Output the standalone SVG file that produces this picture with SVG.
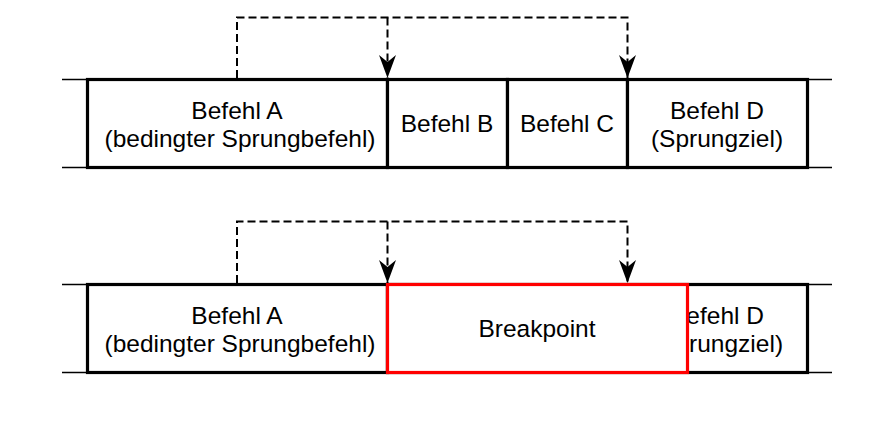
<svg xmlns="http://www.w3.org/2000/svg" width="896" height="426" viewBox="0 0 896 426">
<defs>
<style>
.box{fill:#fff;stroke:#000;stroke-width:3.2}
.thin{stroke:#000;stroke-width:1.3;fill:none}
.red{fill:#fff;stroke:#ff0000;stroke-width:3.2}
.dash{fill:none;stroke:#000;stroke-width:2;stroke-dasharray:8 4}
text{font-family:"Liberation Sans",Arial,sans-serif;font-size:24.5px;fill:#000;text-anchor:middle}
</style>
<marker id="arr" markerUnits="userSpaceOnUse" markerWidth="26" markerHeight="20" viewBox="-24 -10 26 20" refX="0" refY="0" orient="auto">
<path d="M0,0 L-23,-8.5 L-16,0 L-23,8.5 Z" fill="#000"/>
</marker>
</defs>
<rect width="896" height="426" fill="#fff"/>

<g id="row1">
<path class="thin" d="M62,79.5H87M62,167.5H87M807,79.5H832M807,167.5H832"/>
<g id="r1-a"><rect class="box" x="87.5" y="79.5" width="300" height="88"/>
<text x="237" y="119">Befehl A</text><text x="240" y="147">(bedingter Sprungbefehl)</text></g>
<g id="r1-b"><rect class="box" x="387.5" y="79.5" width="120" height="88"/><text x="447" y="132">Befehl B</text></g>
<g id="r1-c"><rect class="box" x="507.5" y="79.5" width="120" height="88"/><text x="567" y="132">Befehl C</text></g>
<g id="r1-d"><rect class="box" x="627.5" y="79.5" width="180" height="88"/>
<text x="717" y="119">Befehl D</text><text x="717" y="147">(Sprungziel)</text></g>
</g>

<g id="row2">
<path class="thin" d="M62,284.5H87M62,372.5H87M807,284.5H832M807,372.5H832"/>
<g id="r2-a"><rect class="box" x="87.5" y="284.5" width="300" height="88"/>
<text x="237" y="324">Befehl A</text><text x="240" y="352">(bedingter Sprungbefehl)</text></g>
<g id="r2-d"><rect class="box" x="387.5" y="284.5" width="420" height="88"/>
<text x="717" y="324">Befehl D</text><text x="717" y="352">(Sprungziel)</text></g>
<g id="r2-bp"><rect class="red" x="387.5" y="284.5" width="300" height="88"/><text x="537" y="337">Breakpoint</text></g>
</g>

<g id="connectors">
<path class="dash" d="M237,78V17.5H627.5V78" marker-end="url(#arr)"/>
<path class="dash" d="M387.5,17.5V78" marker-end="url(#arr)"/>
<path class="dash" d="M237,283V221.5H627.5V283" marker-end="url(#arr)"/>
<path class="dash" d="M387.5,221.5V283" marker-end="url(#arr)"/>
</g>
</svg>
